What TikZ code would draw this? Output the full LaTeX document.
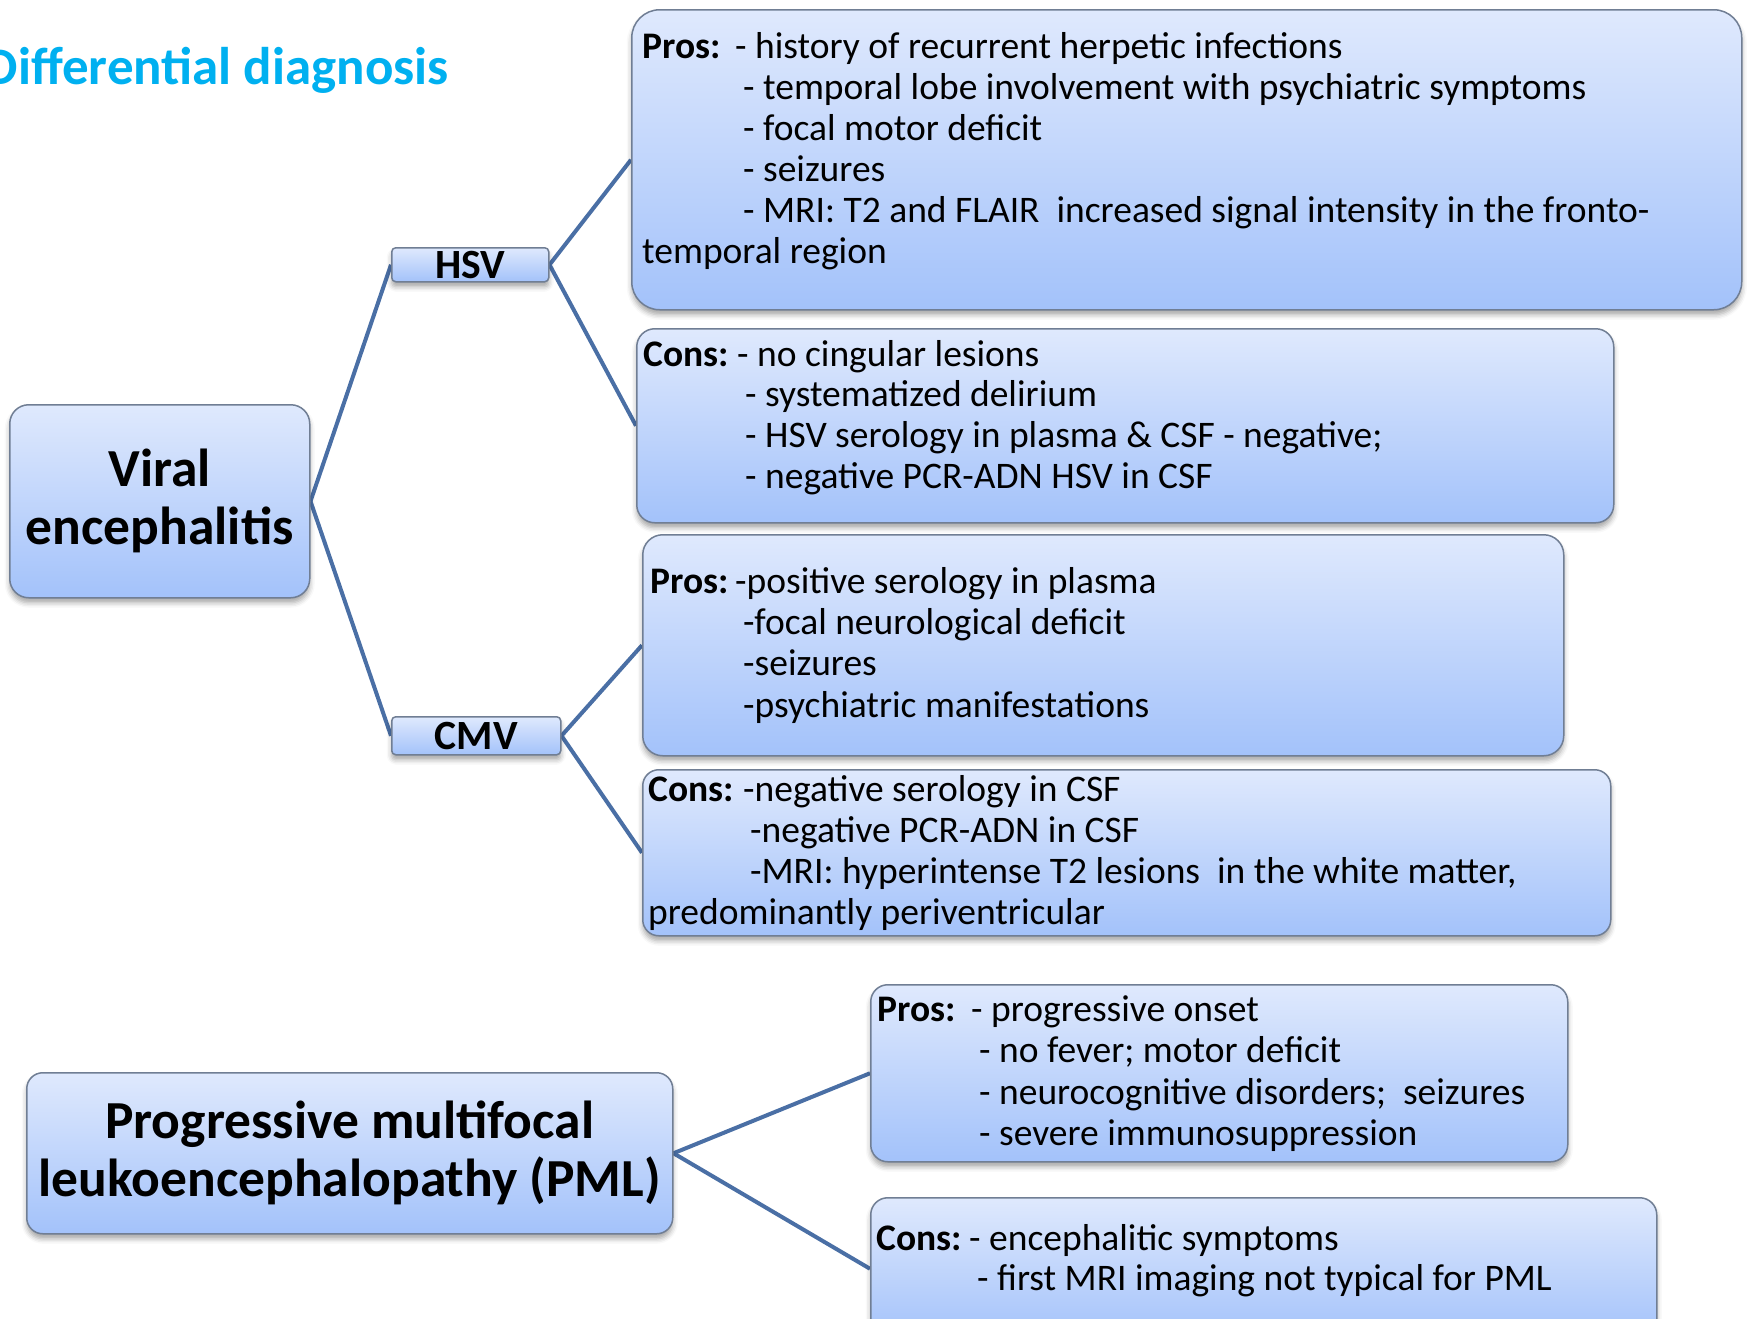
\documentclass[tikz,border=0pt]{standalone}
\usepackage{fontspec}
\setmainfont{Carlito}
\usetikzlibrary{shadows.blur,backgrounds}
\definecolor{boxtop}{HTML}{DFE9FD}
\definecolor{boxbot}{HTML}{A3C2FA}
\definecolor{boxline}{HTML}{707E94}
\definecolor{conncol}{HTML}{4A6FA5}
\definecolor{titlecol}{HTML}{00B0F0}
\tikzset{
 box/.style={draw=boxline, line width=1.5pt, top color=boxtop, bottom color=boxbot,
   blur shadow={shadow xshift=0pt, shadow yshift=-5pt, shadow blur radius=5pt, shadow opacity=35},
   inner sep=0pt, anchor=north west},
 txt/.style={font=\fontsize{37.5}{41}\selectfont, inner sep=0pt, anchor=base west},
 lbl/.style={font=\fontsize{37.5}{41}\selectfont\bfseries, inner sep=0pt, anchor=base west},
 big/.style={font=\fontsize{53.5}{58}\selectfont\bfseries, align=center},
 mid/.style={font=\fontsize{41.6}{44}\selectfont\bfseries},
 connector/.style={draw=conncol, line width=4pt},
}
\begin{document}
\begin{tikzpicture}[x=1pt,y=-1pt]
\useasboundingbox (0,0) rectangle (1748,1318);
% title
\node[font=\fontsize{53}{60}\selectfont\bfseries, text=titlecol, anchor=base east, inner sep=0pt] (title) at (449,84) {Differential diagnosis};
% main boxes
\node[box, rounded corners=19pt, minimum width=300pt, minimum height=193pt, big] (viral) at (9,404) {Viral\\encephalitis};
\node[box, rounded corners=4pt, minimum width=157pt, minimum height=34pt, mid] (hsv) at (391,247) {HSV};
\node[box, rounded corners=4pt, minimum width=169pt, minimum height=38pt, mid] (cmv) at (391,716) {CMV};
\node[box, rounded corners=16pt, minimum width=646pt, minimum height=161pt, big] (pml) at (26,1072) {Progressive multifocal\\leukoencephalopathy (PML)};
% detail boxes
\node[box, rounded corners=28pt, minimum width=1110pt, minimum height=300pt] (hp) at (631,9) {};
\node[box, rounded corners=18pt, minimum width=977pt, minimum height=194pt] (hc) at (636,328) {};
\node[box, rounded corners=20pt, minimum width=921pt, minimum height=221pt] (cp) at (642,534) {};
\node[box, rounded corners=16pt, minimum width=968pt, minimum height=166pt] (cc) at (642,769) {};
\node[box, rounded corners=17pt, minimum width=697pt, minimum height=177pt] (pp) at (870,984) {};
\node[box, rounded corners=17pt, minimum width=786pt, minimum height=142pt] (pc) at (870,1197) {};
% HSV pros
\node[lbl] (hpL) at (642,58) {Pros:};
\node[txt] (hp1) at (735,58) {- history of recurrent herpetic infections};
\node[txt] (hp2) at (743,99) {- temporal lobe involvement with psychiatric symptoms};
\node[txt] (hp3) at (743,140) {- focal motor deficit};
\node[txt] (hp4) at (743,181) {- seizures};
\node[txt] (hp5) at (743,222) {- MRI: T2 and FLAIR\ \ increased signal intensity in the fronto-};
\node[txt] (hp6) at (642,263) {temporal region};
% HSV cons
\node[lbl] (hcL) at (643,366) {Cons:};
\node[txt] (hc1) at (737,366) {- no cingular lesions};
\node[txt] (hc2) at (745,406) {- systematized delirium};
\node[txt] (hc3) at (745,447) {- HSV serology in plasma \& CSF - negative;};
\node[txt] (hc4) at (745,488) {- negative PCR-ADN HSV in CSF};
% CMV pros
\node[lbl] (cpL) at (650,593) {Pros:};
\node[txt] (cp1) at (735,593) {-positive serology in plasma};
\node[txt] (cp2) at (743,634) {-focal neurological deficit};
\node[txt] (cp3) at (743,675) {-seizures};
\node[txt] (cp4) at (743,717) {-psychiatric manifestations};
% CMV cons
\node[lbl] (ccL) at (648,801) {Cons:};
\node[txt] (cc1) at (743,801) {-negative serology in CSF};
\node[txt] (cc2) at (750,842) {-negative PCR-ADN in CSF};
\node[txt] (cc3) at (750,883) {-MRI: hyperintense T2 lesions\ \ in the white matter,};
\node[txt] (cc4) at (648,924) {predominantly periventricular};
% PML pros
\node[lbl] (ppL) at (877,1021) {Pros:};
\node[txt] (pp1) at (971,1021) {- progressive onset};
\node[txt] (pp2) at (979,1062) {- no fever; motor deficit};
\node[txt] (pp3) at (979,1104) {- neurocognitive disorders;\ \ seizures};
\node[txt] (pp4) at (979,1145) {- severe immunosuppression};
% PML cons
\node[lbl] (pcL) at (876,1250) {Cons:};
\node[txt] (pc1) at (969,1250) {- encephalitic symptoms};
\node[txt] (pc2) at (977,1290) {- first MRI imaging not typical for PML};
% connectors
\begin{scope}[on background layer]
\draw[connector] (viral.east) -- (hsv.west);
\draw[connector] (viral.east) -- (cmv.west);
\draw[connector] (hsv.east) -- (hp.west);
\draw[connector] (hsv.east) -- (hc.west);
\draw[connector] (cmv.east) -- (cp.west);
\draw[connector] (cmv.east) -- (cc.west);
\draw[connector] (pml.east) -- (pp.west);
\draw[connector] (pml.east) -- (pc.west);
\end{scope}
\end{tikzpicture}
\end{document}
